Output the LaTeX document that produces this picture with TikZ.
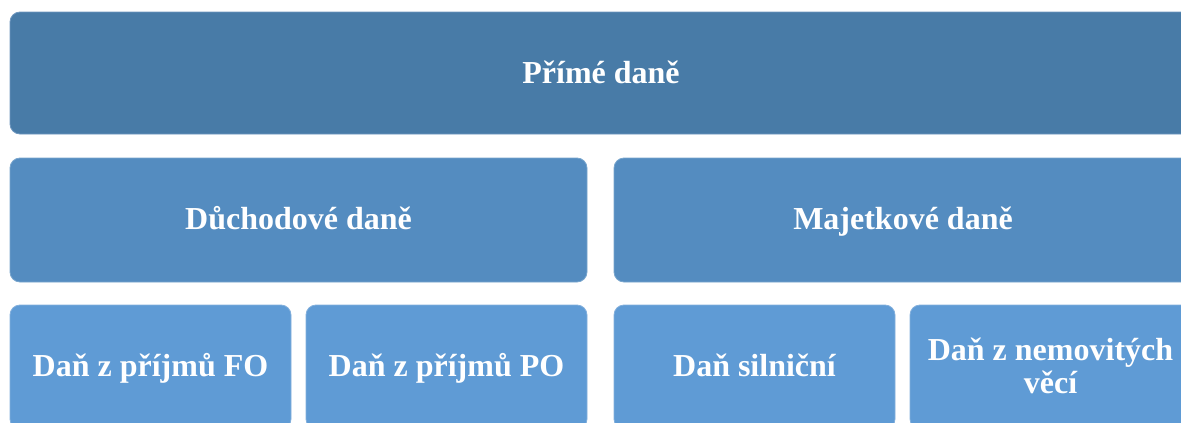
\documentclass[tikz,border=0pt]{standalone}
\usepackage{fontspec}
\setmainfont{Liberation Serif}
\begin{document}
\begin{tikzpicture}[x=1pt,y=-1pt,
  box/.style={rounded corners=10pt, line width=0.8pt},
  lvlA/.style={box, fill={rgb,255:red,72;green,123;blue,167}, draw={rgb,255:red,110;green,150;blue,190}},
  lvlB/.style={box, fill={rgb,255:red,84;green,140;blue,192}, draw={rgb,255:red,120;green,165;blue,205}},
  lvlC/.style={box, fill={rgb,255:red,95;green,155;blue,213}, draw={rgb,255:red,130;green,175;blue,220}},
  lbl/.style={text=white, font=\fontsize{32}{33}\selectfont\bfseries, align=center, inner sep=0pt, anchor=base}]
\useasboundingbox (0,0) rectangle (1181,423);
\clip (0,0) rectangle (1181,423);
\draw[lvlA] (10,12) rectangle (1192,134);
\node[lbl] (a) at (601,83) {Přímé daně};
\draw[lvlB] (10,158) rectangle (587,282);
\node[lbl] (b1) at (298.5,229) {Důchodové daně};
\draw[lvlB] (614,158) rectangle (1192,282);
\node[lbl] (b2) at (903,229) {Majetkové daně};
\draw[lvlC] (10,305) rectangle (291,429);
\node[lbl] (c1) at (150.5,376) {Daň z příjmů FO};
\draw[lvlC] (306,305) rectangle (587,429);
\node[lbl] (c2) at (446.5,376) {Daň z příjmů PO};
\draw[lvlC] (614,305) rectangle (895,429);
\node[lbl] (c3) at (754.5,376) {Daň silniční};
\draw[lvlC] (910,305) rectangle (1191,429);
\node[lbl] (c4) at (1050.5,393) {Daň z nemovitých\\věcí};
\end{tikzpicture}
\end{document}
